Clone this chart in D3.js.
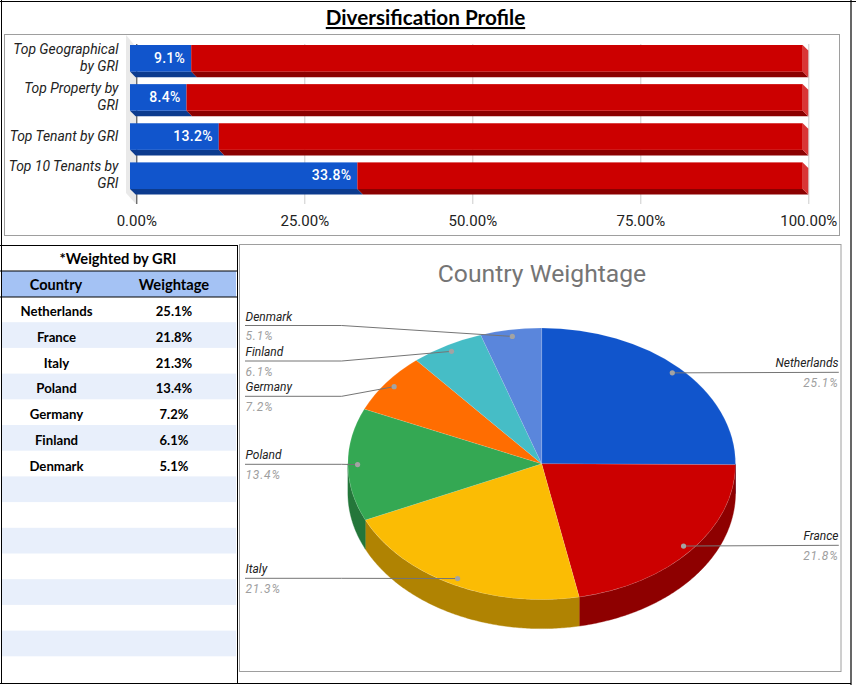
<!DOCTYPE html>
<html><head><meta charset="utf-8">
<script src="https://cdn.jsdelivr.net/npm/d3@7"></script>
<style>html,body{margin:0;padding:0;background:#fff}svg{display:block}</style>
</head><body><svg id="c" width="856" height="685"></svg>
<script>
const barCategories = [["Top Geographical","by GRI"],["Top Property by","GRI"],["Top Tenant by GRI"],["Top 10 Tenants by","GRI"]];
const barValues = [9.1, 8.4, 13.2, 33.8];
const barTicks = [0, 25, 50, 75, 100];
const countries = ["Netherlands","France","Italy","Poland","Germany","Finland","Denmark"];
const weights = [25.1, 21.8, 21.3, 13.4, 7.2, 6.1, 5.1];
const sliceColors = ["#1155cc","#cc0000","#fbbc04","#34a853","#ff6d01","#46bdc6","#5a86dc"];
const wallColors = ["#0c3b8e","#8e0000","#b08302","#24763a","#b24c01","#318489","#3f5e9a"];
const emptyRows = 8;

const svg = d3.select("#c");
const black = "#000";
function frame(x,y,w,h,stroke,sw){svg.append("rect").attr("x",x).attr("y",y).attr("width",w).attr("height",h).attr("fill","none").attr("stroke",stroke).attr("stroke-width",sw);}

/* ---------- top panel ---------- */
svg.append("text").attr("x",425.5).attr("y",25).attr("text-anchor","middle")
  .attr("font-family","Lato").attr("font-weight",700).attr("font-size",20.7)
  .attr("text-decoration","underline").attr("fill","#000").text("Diversification Profile");
frame(4.5,34.5,835,201,"#9e9e9e",1);

const depth = 5.6;
const x0 = d3.scaleLinear().domain([0,100]).range([130,802.7]);      // front face
const xAxisScale = d3.scaleLinear().domain([0,100]).range([136.3,808.3]); // back plane
const yBand = d3.scaleBand().domain(d3.range(barValues.length)).range([45,189]).paddingInner(0.32).paddingOuter(0);

// back wall
svg.append("path").attr("d","M126,35L136,47V204L126,193Z").attr("fill","#e9e9e9");

const axis = d3.axisBottom(xAxisScale).tickValues(barTicks).tickFormat(d=>d3.format(".2f")(d)+"%").tickSize(160).tickPadding(0);
const gAxis = svg.append("g").attr("transform","translate(0,44)").call(axis);
gAxis.select(".domain").remove();
gAxis.selectAll("line").attr("stroke",d=>d===0?"#333":"#ccc");
gAxis.selectAll("text").attr("y",182).attr("dy",null).attr("font-family","Roboto").attr("font-size",15).attr("fill","#222");

const g = svg.append("g");
barValues.forEach((v,i)=>{
  const t = yBand(i), h = yBand.bandwidth(), b = t+h;
  const xm = x0(v), xe = x0(100), xs = x0(0);
  g.append("path").attr("d",`M${xs},${b}H${xm}l${depth},${depth}H${xs+depth}Z`).attr("fill","#0c3b8e");
  g.append("path").attr("d",`M${xm},${b}H${xe}l${depth},${depth}H${xm+depth}Z`).attr("fill","#8b0000");
  g.append("path").attr("d",`M${xe},${t}l${depth},${depth}V${b+depth}l${-depth},${-depth}Z`).attr("fill","#d93636");
  g.append("rect").attr("x",xs).attr("y",t).attr("width",xm-xs).attr("height",h).attr("fill","#1155cc");
  g.append("rect").attr("x",xm).attr("y",t).attr("width",xe-xm).attr("height",h).attr("fill","#cc0000");
  g.append("text").attr("x",xm-6).attr("y",t+h/2+4.6).attr("text-anchor","end")
    .attr("font-family","Roboto").attr("font-weight",500).attr("font-size",14).attr("letter-spacing",0.3).attr("fill","#fff").text(v.toFixed(1)+"%");
  const lines = barCategories[i];
  const ty = t+h/2+ (lines.length===2? -4.4: 4);
  lines.forEach((l,k)=>g.append("text").attr("x",118.5).attr("y",ty+k*17).attr("text-anchor","end")
    .attr("font-family","Roboto").attr("font-style","italic").attr("font-size",13.9).attr("fill","#222").text(l));
});

/* ---------- table ---------- */
const rowY = d3.scaleLinear().domain([0,1]).range([296.5,322.2]);
const tableRows = countries.length + emptyRows;
const table = svg.append("g");
d3.range(tableRows).forEach(i=>{
  if(i%2===1) table.append("rect").attr("x",2).attr("y",rowY(i)).attr("width",234).attr("height",25.7).attr("fill","#e8effb");
});
table.append("rect").attr("x",2).attr("y",271).attr("width",234).attr("height",26).attr("fill","#a4c2f4");
const tfont = s=>s.attr("font-family","Lato").attr("font-weight",700).attr("font-size",14).attr("text-anchor","middle").attr("fill","#000");
table.append("text").attr("x",118).attr("y",264).text("*Weighted by GRI").call(tfont).attr("font-size",14.7);
table.append("text").attr("x",56).attr("y",290).text("Country").call(tfont).attr("font-size",14.5);
table.append("text").attr("x",174).attr("y",290).text("Weightage").call(tfont).attr("font-size",14.7);
countries.forEach((c,i)=>{
  table.append("text").attr("x",56.5).attr("y",rowY(i)+19.8).text(c).call(tfont).attr("font-size",13.2);
  table.append("text").attr("x",174).attr("y",rowY(i)+19.8).text(weights[i].toFixed(1)+"%").call(tfont).attr("font-size",13);
});

/* ---------- pie panel ---------- */
frame(239.5,244.5,601.5,427,"#9e9e9e",1);
svg.append("text").attr("x",542).attr("y",282).attr("text-anchor","middle").attr("font-family","Roboto").attr("font-size",24.7).attr("fill","#757575").text("Country Weightage");

const cx = 541.7, cy = 463.8, rx = 193.8, ry = 135.8, wall = 29;
const sy = ry/rx;
const pie = d3.pie().sort(null).value(d=>d)(weights);
const arc = d3.arc().innerRadius(0).outerRadius(rx);
const dotArc = d3.arc().innerRadius(rx*0.95).outerRadius(rx*0.95);
const gp = svg.append("g");

// visible side walls
const lineGen = d3.line();
const pt = (a,dy)=>[cx+rx*Math.sin(a), cy-ry*Math.cos(a)+dy];
pie.forEach((s,i)=>{
  const a0 = Math.max(s.startAngle, Math.PI/2), a1 = Math.min(s.endAngle, 3*Math.PI/2);
  if(a1<=a0) return;
  const angles = d3.range(a0,a1,0.01).concat(a1);
  const top = angles.map(a=>pt(a,0)), bot = angles.map(a=>pt(a,wall)).reverse();
  gp.append("path").attr("d",lineGen(top.concat(bot))+"Z").attr("fill",wallColors[i]).attr("stroke",wallColors[i]).attr("stroke-width",0.4);
});
// top faces
const face = gp.append("g").attr("transform",`translate(${cx},${cy}) scale(1,${sy})`);
pie.forEach((s,i)=>face.append("path").attr("d",arc(s)).attr("fill",sliceColors[i]).attr("stroke","#fff").attr("stroke-opacity",0.25).attr("stroke-width",0.5));

// leader lines and labels: side, and y of the horizontal label rule
const labelSide = ["r","r","l","l","l","l","l"];
const labelRule = [372.3,545.3,578.3,464.3,396.3,361,325.5];
pie.forEach((s,i)=>{
  const [dx,dy] = dotArc.centroid(s);
  const px = cx+dx, py = cy+dy*sy, ly = labelRule[i], left = labelSide[i]==="l";
  const edge = left?245:838.8, elbow = left?341.7:px;
  const pts = left ? [[edge,ly],[elbow,ly],[px,py]] : [[edge,ly],[px,py]];
  gp.append("path").attr("d",d3.line()(pts)).attr("fill","none").attr("stroke","#757575").attr("stroke-width",1);
  gp.append("circle").attr("cx",px).attr("cy",py).attr("r",2.6).attr("fill","#a3a3a3");
  const anchor = left?"start":"end";
  gp.append("text").attr("x",left?245.5:838.5).attr("y",ly-5).attr("text-anchor",anchor).attr("font-family","Roboto").attr("font-style","italic").attr("font-size",12).attr("fill","#222").text(countries[i]);
  gp.append("text").attr("x",left?245.5:838.5).attr("y",ly+14.5).attr("text-anchor",anchor).attr("font-family","Roboto").attr("font-style","italic").attr("font-size",12).attr("letter-spacing",0.8).attr("fill","#9e9e9e").text(weights[i].toFixed(1)+"%");
});

/* ---------- black cell borders ---------- */
const rule = (x1,y1,x2,y2)=>svg.append("line").attr("x1",x1).attr("y1",y1).attr("x2",x2).attr("y2",y2).attr("stroke",black).attr("stroke-width",1);
rule(0,1.5,856,1.5).attr("stroke-width",1.2);
rule(1.5,0,1.5,684);
rule(851,0,851,685).attr("stroke-width",1.2);
rule(0,683.5,851,683.5);
rule(0,245.5,237,245.5);
rule(0,271,237,271).attr("stroke-width",1.2);
rule(0,297,237,297).attr("stroke-width",1.2);
rule(237.5,245,237.5,684);
</script></body></html>
